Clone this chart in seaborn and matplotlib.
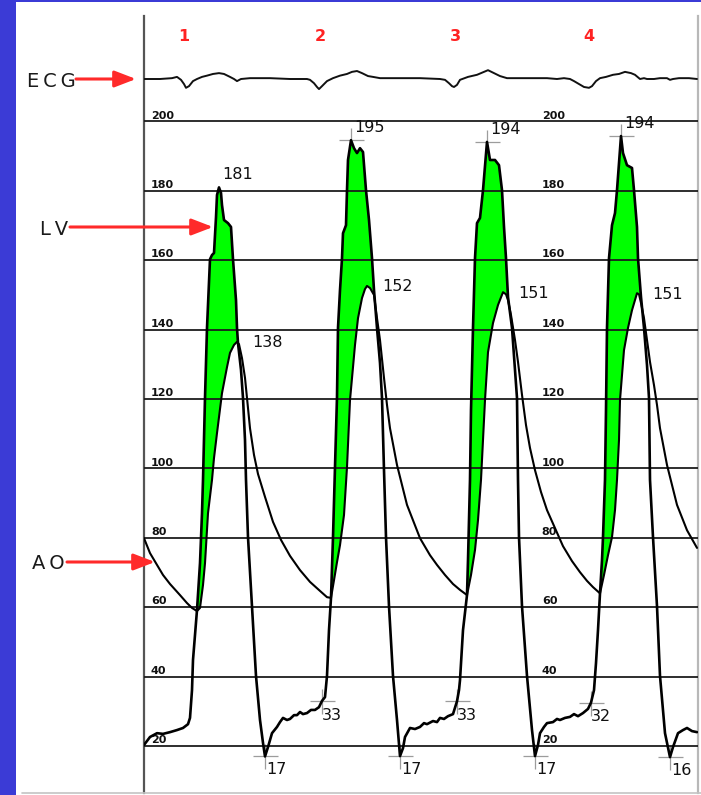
import matplotlib
matplotlib.use("Agg")
import matplotlib.pyplot as plt
from matplotlib.patches import Rectangle
from matplotlib.lines import Line2D
import numpy as np
import pandas as pd
import seaborn as sns

# time in samples, pressure in mmHg, ECG in mV
lv_t = [0, 6, 13, 19, 26, 33, 39, 44, 46, 48,
        49, 51, 53, 56, 58, 59, 61, 63, 66, 68,
        70, 72, 73, 75, 77, 78, 80, 84, 87, 89,
        92, 93, 94, 97, 99, 101, 102, 104, 108, 112,
        116, 119, 121, 124, 128, 133, 136, 139, 143, 146,
        150, 153, 156, 159, 163, 167, 171, 175, 178, 181,
        183, 185, 187,
        189, 191, 193, 194, 196, 198, 199, 202, 203, 204,
        207, 210, 213, 216, 219, 222, 225, 228, 230, 233,
        236, 238, 240, 242, 245, 249, 253, 255, 256, 259,
        261, 266, 271, 276, 280, 283, 289, 293, 296, 300,
        304, 309, 313, 315, 316, 319, 323,
        324, 326, 327, 329, 331, 333, 336, 339, 343, 346,
        351, 355, 358, 360, 362, 364, 368, 371, 373, 374,
        375, 378, 383, 388, 391, 394, 396, 400, 403, 409,
        413, 416, 421, 426, 430, 434, 439, 444, 447, 450,
        452, 454, 456,
        458, 459, 461, 462, 463, 465, 468, 471, 473, 477,
        479, 483, 488, 490, 493, 494, 496, 497, 500, 503,
        505, 506, 509, 513, 516, 521, 526, 529, 534, 539,
        543, 548, 553]
lv_p = [20.3, 22.6, 23.7, 23.5, 24.0, 24.6, 25.2, 26.3, 28.1, 36.1,
        44.8, 52.0, 59.2, 72.7, 87.1, 96.7, 120.3, 140.5, 160.3, 161.5,
        162.1, 172.4, 178.8, 181.0, 179.4, 175.9, 171.6, 170.7, 169.6, 160.3,
        148.5, 140.5, 136.1, 128.4, 120.3, 108.2, 96.7, 80.2, 60.3, 40.2,
        27.5, 20.9, 17.0, 19.7, 23.7, 25.5, 26.9, 28.1, 27.5, 27.8,
        28.9, 28.9, 29.8, 29.2, 29.5, 30.4, 30.4, 31.2, 33.0, 34.1,
        40.2, 53.4, 62.7,
        80.2, 100.4, 120.6, 140.5, 151.4, 160.6, 167.8, 170.1, 180.2, 188.9,
        194.6, 192.3, 190.9, 192.3, 191.2, 180.2, 171.6, 160.6, 151.4, 140.5,
        130.4, 120.3, 99.5, 80.2, 60.3, 40.2, 27.5, 20.3, 17.1, 19.4,
        22.6, 25.2, 24.9, 25.5, 26.6, 26.3, 27.2, 26.9, 28.1, 27.8,
        28.6, 29.2, 32.9, 36.1, 39.0, 53.4, 63.5,
        73.6, 96.7, 116.8, 140.5, 160.6, 170.7, 172.2, 180.2, 194.1, 188.9,
        188.9, 187.4, 180.2, 169.6, 160.6, 149.4, 140.5, 128.4, 120.3, 96.7,
        80.2, 60.3, 40.2, 24.6, 17.1, 20.3, 23.7, 25.5, 26.6, 26.9,
        27.8, 27.5, 28.1, 28.4, 29.2, 28.6, 29.5, 30.7, 32.5, 36.1,
        43.9, 53.4, 64.0,
        73.6, 80.2, 96.7, 116.8, 140.5, 160.6, 170.1, 173.6, 180.2, 195.8,
        190.9, 187.4, 186.6, 180.2, 169.6, 160.6, 152.9, 149.4, 140.5, 129.8,
        120.3, 96.7, 80.2, 60.3, 40.2, 23.7, 16.8, 19.7, 23.7, 24.6,
        25.2, 24.3, 24.0]

ao_t = [0, 6, 13, 19, 26, 36, 43, 48, 53, 56,
        59, 61, 64, 68, 70, 73, 78, 83, 86, 90,
        93, 95, 98, 101, 103, 106, 110, 114, 121, 129,
        137, 146, 156, 166, 176, 183, 187,
        190, 193, 196, 200, 203, 206, 209, 211, 214, 218,
        221, 223, 226, 230, 233, 236, 240, 243, 246, 253,
        263, 276, 286, 293, 301, 309, 316, 323,
        327, 331, 334, 337, 339, 341, 344, 349, 354, 359,
        362, 364, 367, 371, 374, 378, 382, 386, 391, 397,
        403, 411, 419, 428, 436, 443, 449, 456,
        460, 464, 468, 471, 473, 475, 476, 480, 484, 488,
        493, 495, 497, 500, 503, 506, 510, 513, 516, 523,
        533, 543, 553]
ao_p = [79.9, 75.6, 72.2, 69.3, 66.7, 63.5, 61.2, 59.8, 58.9, 59.8,
        66.4, 72.7, 87.1, 96.7, 103.0, 110.2, 121.7, 129.2, 133.3, 135.6,
        136.5, 135.8, 131.8, 126.1, 120.3, 111.6, 103.9, 98.4, 91.8, 84.6,
        79.4, 74.8, 70.7, 67.3, 64.7, 62.9, 62.7,
        67.8, 73.0, 77.9, 86.6, 100.4, 119.7, 129.2, 135.6, 143.3, 149.1,
        151.7, 152.6, 152.0, 150.0, 143.3, 137.0, 126.1, 118.3, 111.6, 101.0,
        89.5, 79.9, 75.0, 72.2, 69.3, 66.7, 65.0, 63.5,
        69.3, 76.5, 85.1, 96.7, 108.2, 119.7, 133.5, 141.9, 147.1, 150.8,
        150.2, 148.5, 144.2, 137.0, 130.7, 121.2, 112.5, 105.9, 99.5, 93.2,
        88.0, 82.8, 77.6, 73.3, 70.1, 67.6, 65.8, 64.0,
        69.3, 75.0, 80.2, 88.0, 96.7, 108.2, 119.7, 134.1, 140.5, 145.6,
        150.5, 150.2, 147.7, 143.3, 137.0, 130.7, 124.0, 118.3, 111.6, 101.0,
        89.5, 82.2, 77.1]

ecg_t = [0, 16, 28, 33, 37, 40, 42, 45, 49, 53,
         58, 63, 69, 75, 80, 86, 90, 93, 97, 106,
         126, 146, 163, 166, 170, 173, 175, 178, 183, 189,
         196, 203, 208, 213, 218, 224, 229, 236, 256, 276,
         296, 301, 305, 308, 310, 313, 316, 324, 333, 340,
         344, 350, 356, 363, 383, 403, 413, 420, 426, 430,
         435, 440, 445, 448, 452, 456, 462, 469, 475, 481,
         487, 491, 496, 500, 503, 510, 516, 523, 526, 529,
         535, 545, 553]
ecg_mv = [0, 0, 0.02, 0.05, -0.02, -0.12, -0.21, -0.17, -0.05, 0.0,
          0.05, 0.08, 0.12, 0.14, 0.12, 0.05, 0.0, -0.05, 0.0, 0.02,
          0.02, 0.0, 0.0, -0.02, -0.1, -0.19, -0.24, -0.17, -0.05, 0.02,
          0.08, 0.12, 0.17, 0.19, 0.14, 0.07, 0.05, 0.02, 0.02, 0.02,
          0.0, -0.02, -0.1, -0.17, -0.19, -0.14, -0.02, 0.05, 0.1, 0.17,
          0.21, 0.14, 0.07, 0.02, 0.02, 0.02, 0.0, 0.02, 0.0, -0.05,
          -0.12, -0.19, -0.21, -0.17, -0.05, 0.02, 0.05, 0.1, 0.12, 0.17,
          0.14, 0.1, 0.0, 0.02, 0.0, 0.0, 0.02, 0.02, -0.02, 0.0,
          0.02, 0.02, 0.0]

# ejection: aortic valve opens / closes
eject_open = [53, 187, 323, 456]
eject_close = [94, 230, 364, 497]

beat_numbers = ["1", "2", "3", "4"]
beat_t = [40, 176, 311, 445]

lv_peak_t = [75, 207, 343, 477]
lv_peak_text = ["181", "195", "194", "194"]
ao_peak_t = [93, 223, 359, 493]
ao_peak_text = ["138", "152", "151", "151"]
lv_min_t = [121, 256, 391, 526]
lv_min_text = ["17", "17", "17", "16"]
edp_t = [178, 313, 447]
edp_text = ["33", "33", "32"]

grid_levels = [20, 40, 60, 80, 100, 120, 140, 160, 180, 200]

W, H = 701, 795

sns.set_style("white")
plt.rcParams["font.family"] = ["DejaVu Sans"]

fig = plt.figure(figsize=(W / 100, H / 100), dpi=100)
fig.patch.set_facecolor("#3b3bd6")
fig.add_artist(Rectangle((16 / W, 0), 1 - 16 / W, 793 / H, transform=fig.transFigure,
                         facecolor="white", edgecolor="none", zorder=-5))
fig.add_artist(Line2D([22 / W, 1], [2 / H, 2 / H], transform=fig.transFigure,
                      color="#c4c4c4", lw=1.2))

# pressure panel
ax = fig.add_axes([144 / W, 2 / H, 554 / W, 777 / H])
ax.set_facecolor("none")

lv = pd.DataFrame({"t": lv_t, "p": lv_p})
ao = pd.DataFrame({"t": ao_t, "p": ao_p})

for t0, t1 in zip(eject_open, eject_close):
    up = lv[lv.t.between(t0, t1)]
    dn = ao[ao.t.between(t0, t1)].iloc[::-1]
    ax.fill(np.r_[up.t, dn.t], np.r_[up.p, dn.p], color="#00ff00", lw=0, zorder=2)

sns.lineplot(data=ao, x="t", y="p", ax=ax, sort=False, estimator=None,
             color="black", lw=1.5, zorder=3)
sns.lineplot(data=lv, x="t", y="p", ax=ax, sort=False, estimator=None,
             color="black", lw=1.9, zorder=3.2)

ax.set_xlim(0, 554)
ax.set_ylim(6.46, 230.4)
ax.set(xlabel="", ylabel="")
ax.set_xticks([])
ax.set_yticks(grid_levels)
ax.set_axisbelow(False)
ax.yaxis.grid(True, color="#1c1c1c", lw=1.3)
ax.tick_params(left=False, labelleft=False, bottom=False)
for s in ("top", "bottom"):
    ax.spines[s].set_visible(False)
ax.spines["left"].set_color("#555555")
ax.spines["left"].set_linewidth(1.6)
ax.spines["right"].set_color("#b8b8b8")
ax.spines["right"].set_linewidth(1.6)

for lvl in grid_levels:
    for xf in (0.0126, 0.718):
        ax.annotate(str(lvl), (xf, lvl), xycoords=("axes fraction", "data"),
                    xytext=(0, 2), textcoords="offset points", fontsize=8,
                    fontweight="bold", color="#111111", va="baseline", zorder=2.6)

lvd = dict(zip(lv_t, lv_p))
aod = dict(zip(ao_t, ao_p))

# grey crosshair markers at measured points
mk_t = lv_peak_t[1:] + lv_min_t + edp_t
ax.plot(mk_t, [lvd[t] for t in mk_t], ls="none", marker="+", ms=18, mew=0.9,
        color="#9c9c9c", zorder=1.5)


def note(ts, lookup, texts, dx, dy):
    for t, s in zip(ts, texts):
        ax.annotate(s, (t, lookup[t]), xytext=(dx, dy), textcoords="offset points",
                    fontsize=11.5, color="#111111", ha="left", va="baseline", zorder=5)


note(lv_peak_t, lvd, lv_peak_text, 2.5, 6)
note(ao_peak_t, aod, ao_peak_text, 11, -4)
note(lv_min_t, lvd, lv_min_text, 0.7, -13)
note(edp_t, lvd, edp_text, 0, -13.5)

# ECG strip
ax_e = fig.add_axes([144 / W, (H - 121) / H, 554 / W, 105 / H])
sns.lineplot(x=ecg_t, y=ecg_mv, ax=ax_e, sort=False, estimator=None,
             color="#111111", lw=1.4)
ax_e.set_xlim(0, 554)
ax_e.set_ylim(-1, 1.5)
ax_e.axis("off")
for t, s in zip(beat_t, beat_numbers):
    ax_e.text(t, 0.9, s, color="#ff2222", fontsize=11.5, fontweight="bold",
              ha="center", va="baseline")


def side_label(text, xc, ybase, x0, x1, ya):
    fig.text(xc / W, 1 - ybase / H, text, ha="center", va="baseline",
             fontsize=14, color="#1a1a1a")
    ax.annotate("", xy=(x1, H - ya), xycoords="figure pixels",
                xytext=(x0, H - ya), textcoords="figure pixels",
                arrowprops=dict(arrowstyle="-|>,head_length=0.65,head_width=0.25",
                                color="#ff2a2a", lw=2.2, shrinkA=0, shrinkB=0,
                                mutation_scale=20),
                annotation_clip=False, zorder=6)


side_label("E\u2009C\u2009G", 51.5, 87, 76, 136, 79)
side_label("L\u2009V", 54, 235, 70, 213, 227)
side_label("A\u2009O", 48.5, 569, 67, 155, 562)

fig.savefig("out.png", dpi=100, facecolor=fig.get_facecolor())
